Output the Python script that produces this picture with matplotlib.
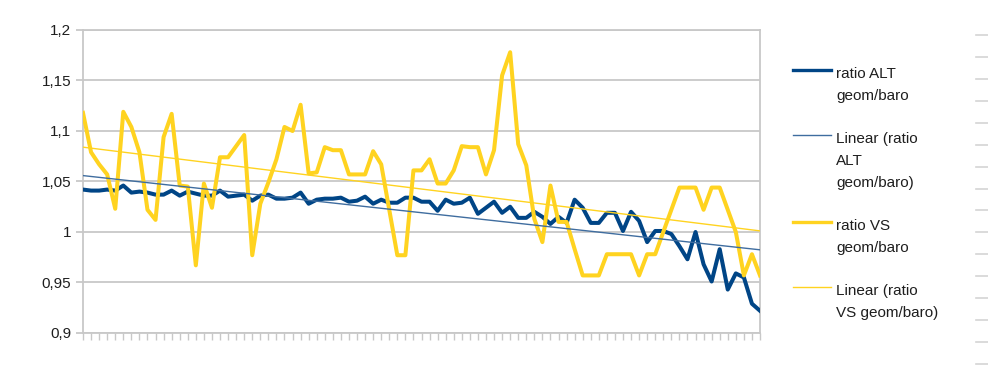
import numpy as np
import matplotlib.pyplot as plt
from matplotlib.lines import Line2D
from matplotlib.ticker import FuncFormatter, MultipleLocator

plt.rcParams['font.family'] = ['Liberation Sans', 'DejaVu Sans']

# ratio values, one per sample
ratio_alt = [1.042, 1.041, 1.041, 1.042, 1.041, 1.046, 1.039, 1.040, 1.039, 1.037,
             1.037, 1.041, 1.036, 1.040, 1.038, 1.036, 1.036, 1.041, 1.035, 1.036,
             1.037, 1.031, 1.036, 1.037, 1.033, 1.033, 1.034, 1.039, 1.028, 1.032,
             1.033, 1.033, 1.034, 1.030, 1.031, 1.035, 1.028, 1.032, 1.029, 1.029,
             1.034, 1.034, 1.030, 1.030, 1.021, 1.032, 1.028, 1.029, 1.034, 1.018,
             1.024, 1.030, 1.019, 1.025, 1.014, 1.014, 1.020, 1.015, 1.008, 1.015,
             1.009, 1.032, 1.024, 1.009, 1.009, 1.019, 1.019, 1.001, 1.020, 1.011,
             0.990, 1.001, 1.001, 0.998, 0.986, 0.973, 1.000, 0.968, 0.951, 0.983,
             0.943, 0.959, 0.955, 0.929, 0.922]
ratio_vs = [1.118, 1.079, 1.067, 1.057, 1.023, 1.119, 1.104, 1.079, 1.022, 1.012,
            1.094, 1.117, 1.046, 1.045, 0.967, 1.048, 1.024, 1.074, 1.074, 1.085,
            1.096, 0.977, 1.028, 1.049, 1.072, 1.104, 1.100, 1.126, 1.058, 1.059,
            1.084, 1.081, 1.081, 1.057, 1.057, 1.057, 1.080, 1.067, 1.022, 0.977,
            0.977, 1.061, 1.061, 1.072, 1.048, 1.048, 1.061, 1.085, 1.084, 1.084,
            1.057, 1.081, 1.155, 1.178, 1.087, 1.066, 1.013, 0.990, 1.046, 1.010,
            1.010, 0.983, 0.957, 0.957, 0.957, 0.978, 0.978, 0.978, 0.978, 0.957,
            0.978, 0.978, 1.000, 1.022, 1.044, 1.044, 1.044, 1.022, 1.044, 1.044,
            1.022, 1.000, 0.957, 0.978, 0.957]
legend_labels = [['ratio ALT', 'geom/baro'],
                 ['Linear (ratio', 'ALT', 'geom/baro)'],
                 ['ratio VS', 'geom/baro'],
                 ['Linear (ratio', 'VS geom/baro)']]

W, H = 988, 376
fig = plt.figure(figsize=(W / 100, H / 100), dpi=100)
ax = fig.add_axes([83 / W, 1 - 333 / H, 677 / W, 303 / H])

x = np.arange(len(ratio_alt))
alt_fit = np.polyval(np.polyfit(x, ratio_alt, 1), x)
vs_fit = np.polyval(np.polyfit(x, ratio_vs, 1), x)

blue = '#004586'
blue_trend = '#3f6d9f'
yellow = '#ffd320'
grid_c = '#c8c8c8'
text_c = '#1e1e1e'

ax.plot(x, ratio_alt, color=blue, lw=2.9, solid_joinstyle='round', zorder=3)
ax.plot(x, ratio_vs, color=yellow, lw=2.9, solid_joinstyle='round', zorder=3)
ax.plot(x, alt_fit, color=blue_trend, lw=1.0, zorder=4)
ax.plot(x, vs_fit, color=yellow, lw=1.0, zorder=4)

ax.set_xlim(0, len(x) - 1)
ax.set_ylim(0.9, 1.2)
ax.yaxis.set_major_locator(MultipleLocator(0.05))
ax.yaxis.set_major_formatter(FuncFormatter(
    lambda v, p: f'{v:.2f}'.rstrip('0').rstrip('.').replace('.', ',')))
ax.set_xticks(x)
ax.set_xticklabels([])
ax.grid(axis='y', color=grid_c, lw=1.3)
ax.set_axisbelow(True)
for s in ax.spines.values():
    s.set_color(grid_c)
    s.set_linewidth(1.3)
ax.tick_params(axis='x', direction='out', length=5, width=1.0, color=grid_c)
ax.tick_params(axis='y', direction='out', length=5, width=1.3, color=grid_c,
               labelsize=11, labelcolor=text_c, pad=3.5)

# legend drawn by hand, one baseline per text line
handles = [dict(color=blue, lw=2.4), dict(color=blue_trend, lw=1.0),
           dict(color=yellow, lw=2.4), dict(color=yellow, lw=1.0)]
pitch = 21.7
row = 0
for h, lines in zip(handles, legend_labels):
    base = 78.3 + pitch * row
    fig.add_artist(Line2D([793 / W, 831 / W], [1 - (base - 8.5) / H] * 2, **h))
    for i, t in enumerate(lines):
        fig.text(836 / W, 1 - (base + pitch * i) / H, t, fontsize=11,
                 color=text_c, va='baseline', ha='left')
    row += len(lines) + 1

# spreadsheet row lines peeking in at the right edge
for i in range(16):
    yy = 1 - (35 + 21.93 * i) / H
    fig.add_artist(Line2D([976 / W, 1.0], [yy, yy], color='#d4d4d4', lw=1.2))

fig.savefig('out.png', dpi=100)
